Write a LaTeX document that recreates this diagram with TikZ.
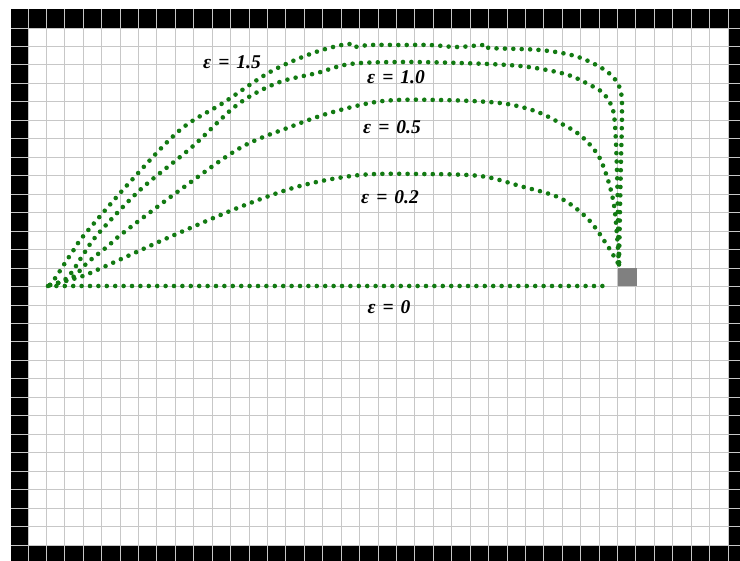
\documentclass[tikz,border=0pt]{standalone}
\usepackage{fontspec}
\setmainfont{Liberation Serif}
\definecolor{trajgreen}{RGB}{18,122,18}
\definecolor{targetgray}{RGB}{128,128,128}
\newcommand{\eqsp}{\hspace{0.36em}}
\begin{document}
\begin{tikzpicture}[x=1pt,y=-1pt,
  gridline/.style={draw=black!22, line width=0.9pt},
  traj/.style={draw=trajgreen, line width=4.6pt, line cap=round, dash pattern=on 0pt off 8.4pt},
  elabel/.style={font=\fontsize{19.5}{21}\selectfont\bfseries\itshape, text=black, inner sep=0pt}]
\useasboundingbox (0,0) rectangle (740,561);
\fill[white] (0,0) rectangle (740,561);
% black border frame
\fill[black] (11,9) rectangle (740,561);
\fill[white] (28,28) rectangle (728,545);
% grid
\foreach \k in {0,...,38} \draw[gridline] ({28+\k*18.4211},9) -- ({28+\k*18.4211},561);
\foreach \j in {0,...,28} \draw[gridline] (11,{28+\j*18.4643}) -- (740,{28+\j*18.4643});
% target cell
\node[name=target, fill=targetgray, minimum size=18.4pt, inner sep=0pt] at (627.4,277.2) {};
\coordinate (origin) at (48,286);
\coordinate (lineend) at (610,286);
% trajectories
\draw[traj] (origin) -- (lineend);
\draw[traj] plot[smooth,tension=0.55] coordinates {(50,285) (80,277) (97,270) (130,255) (172,236) (240,207) (300,186) (360,175) (420,174) (480,176) (520,186) (560,198) (588,219) (607,245) (619,265)};
\draw[traj] plot[smooth,tension=0.55] coordinates {(50,285) (72,278) (87,263) (108,246) (123,233) (180,190) (240,148) (290,127) (333,112) (383,101) (440,100) (500,103) (535,111) (560,123) (580,135) (598,155) (608,180) (614,205) (617,235) (619,265)};
\draw[traj] plot[smooth,tension=0.55] coordinates {(50,285) (63,281) (72,272) (83,255) (98,234) (140,190) (192,147) (237,105) (277,83) (317,73) (350,64) (400,62) (460,63) (520,66) (565,74) (590,85) (603,93) (612,107) (615,125) (617,170) (618,220) (619,265)};
\draw[traj] plot[smooth,tension=0.55] coordinates {(50,285) (56,277) (65,263) (75,248) (85,234) (130,182) (180,130) (223,103) (270,72) (313,53) (347,44) (353,47) (370,45) (400,45) (430,45) (457,47) (485,45) (490,48) (540,50) (575,56) (600,67) (614,78) (621,92) (622,115) (621,160) (620,210) (619,265)};
% labels
\node[elabel] (l15) at (232,62) {ε\eqsp=\eqsp1.5};
\node[elabel] (l10) at (396,77) {ε\eqsp=\eqsp1.0};
\node[elabel] (l05) at (392,127) {ε\eqsp=\eqsp0.5};
\node[elabel] (l02) at (390,197) {ε\eqsp=\eqsp0.2};
\node[elabel] (l00) at (389,307) {ε\eqsp=\eqsp0};
\end{tikzpicture}
\end{document}
